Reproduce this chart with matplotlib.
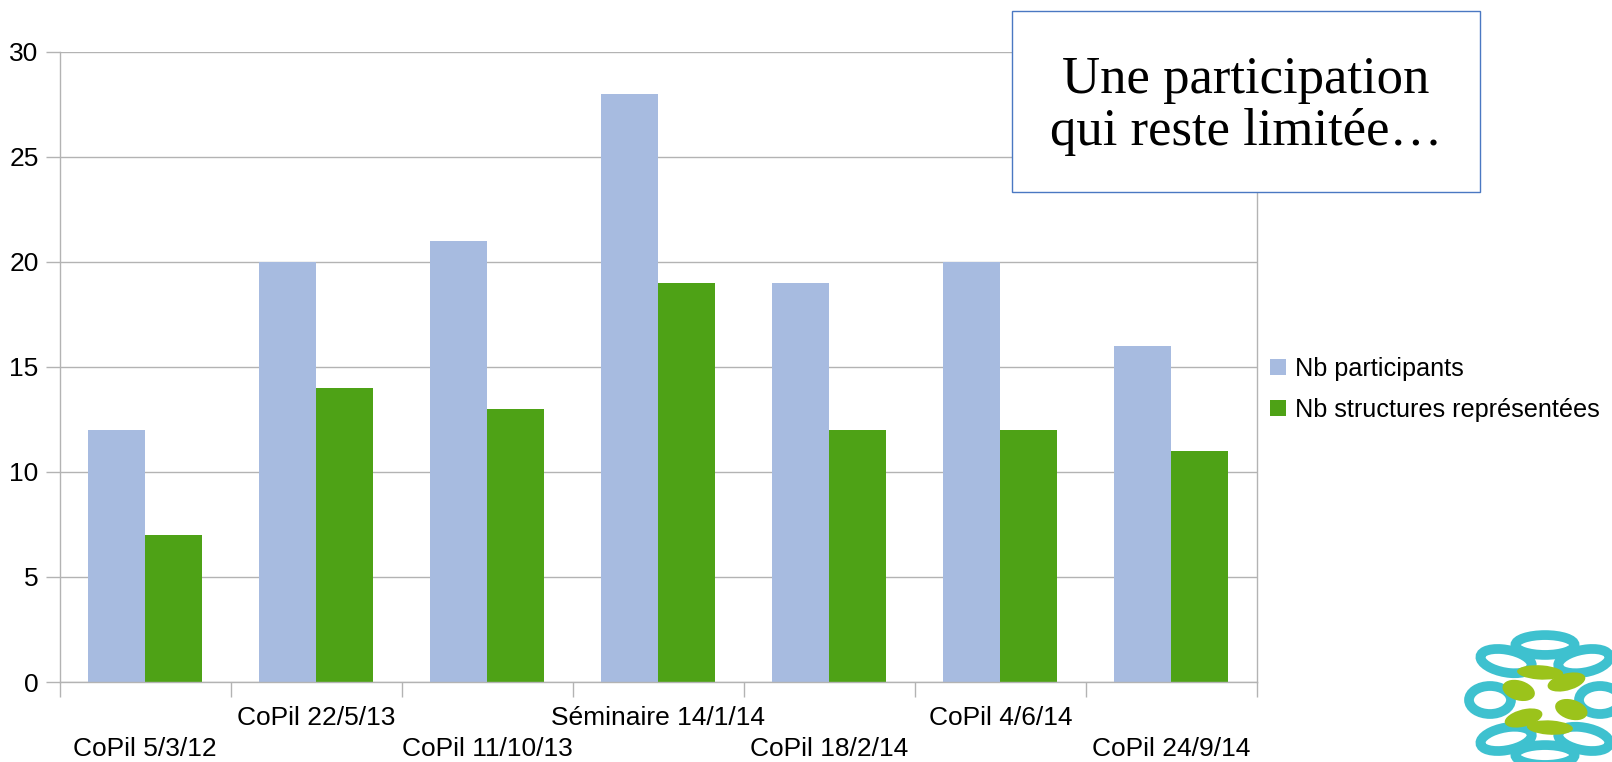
import matplotlib
matplotlib.use("Agg")
import matplotlib.pyplot as plt
import numpy as np
from matplotlib.patches import Ellipse

categories = ["CoPil 5/3/12", "CoPil 22/5/13", "CoPil 11/10/13", "Séminaire 14/1/14",
              "CoPil 18/2/14", "CoPil 4/6/14", "CoPil 24/9/14"]
participants = [12, 20, 21, 28, 19, 20, 16]
structures = [7, 14, 13, 19, 12, 12, 11]
series_names = ["Nb participants", "Nb structures représentées"]
yticks = [0, 5, 10, 15, 20, 25, 30]

blue = "#A7BBE0"
green = "#4EA216"
grid = "#B3B3B3"

plt.rcParams['font.family'] = ['Liberation Sans', 'DejaVu Sans']

W, H = 1612, 762
fig = plt.figure(figsize=(W / 100, H / 100), dpi=100)
x0, x1 = 59.5, 1257
y0, y1 = 682, 51.5
ax = fig.add_axes([x0 / W, 1 - y0 / H, (x1 - x0) / W, (y0 - y1) / H])

n = len(categories)
x = np.arange(n)
w = 1 / 3
ax.bar(x - w / 2, participants, width=w, color=blue, label=series_names[0], zorder=3)
ax.bar(x + w / 2, structures, width=w, color=green, label=series_names[1], zorder=3)

ax.set_xlim(-0.5, n - 0.5)
ax.set_ylim(0, 30)
ax.set_yticks(yticks)
ax.set_yticklabels([str(v) for v in yticks], fontsize=19)
ax.yaxis.grid(True, color=grid, linewidth=1.0, zorder=0)
ax.tick_params(axis='y', length=10, color=grid, width=1.0, pad=5, labelcolor='black')

# category boundaries as minor ticks
ax.set_xticks(np.arange(-0.5, n, 1.0), minor=True)
ax.set_xticks(x)
labels = [("\n" + c) if i % 2 == 0 else c for i, c in enumerate(categories)]
ax.set_xticklabels(labels, fontsize=19)
for lbl in ax.get_xticklabels():
    lbl.set_linespacing(1.4)
ax.tick_params(axis='x', which='major', length=0, pad=17)
ax.tick_params(axis='x', which='minor', length=11, color=grid, width=1.0)

for s in ['left', 'right', 'bottom']:
    ax.spines[s].set_color(grid)
    ax.spines[s].set_linewidth(1.0)
ax.spines['top'].set_visible(False)
ax.spines['bottom'].set_zorder(4)

leg = fig.legend(loc='upper left', bbox_to_anchor=(1270 / W, 1 - 357 / H),
                 frameon=False, fontsize=18.2, handlelength=0.62, handleheight=0.62,
                 handletextpad=0.38, labelspacing=0.68, borderaxespad=0, borderpad=0)

# text box
bx0, bx1, by0, by1 = 1012, 1480, 11, 192
fig.patches.append(plt.Rectangle((bx0 / W, 1 - by1 / H), (bx1 - bx0) / W, (by1 - by0) / H,
                                 transform=fig.transFigure, facecolor='white',
                                 edgecolor='#4A78C2', linewidth=1.0, zorder=10))
fig.text((bx0 + bx1) / 2 / W, 1 - 106 / H, "Une participation\nqui reste limitée…",
         ha='center', va='center', fontsize=38, family=['Liberation Serif', 'DejaVu Serif'],
         linespacing=1.1, zorder=11)

# logo approximation (decorative)
cyan = "#3EC1CF"
lime = "#9BC31B"
cx, cy = 1545, 700
for ang in range(0, 360, 45):
    r = np.deg2rad(ang)
    ex, ey = cx + 55 * np.cos(r), cy + 55 * np.sin(r)
    fig.patches.append(Ellipse((ex / W, 1 - ey / H), 42 / W, 28 / H, angle=ang,
                               transform=fig.transFigure, facecolor='none',
                               edgecolor=cyan, linewidth=7, zorder=5))
for ang in range(20, 380, 60):
    r = np.deg2rad(ang)
    ex, ey = cx + 28 * np.cos(r), cy + 28 * np.sin(r)
    fig.patches.append(Ellipse((ex / W, 1 - ey / H), 30 / W, 22 / H, angle=ang,
                               transform=fig.transFigure, facecolor=lime,
                               edgecolor='none', zorder=6))

fig.savefig("out.png", dpi=100)
